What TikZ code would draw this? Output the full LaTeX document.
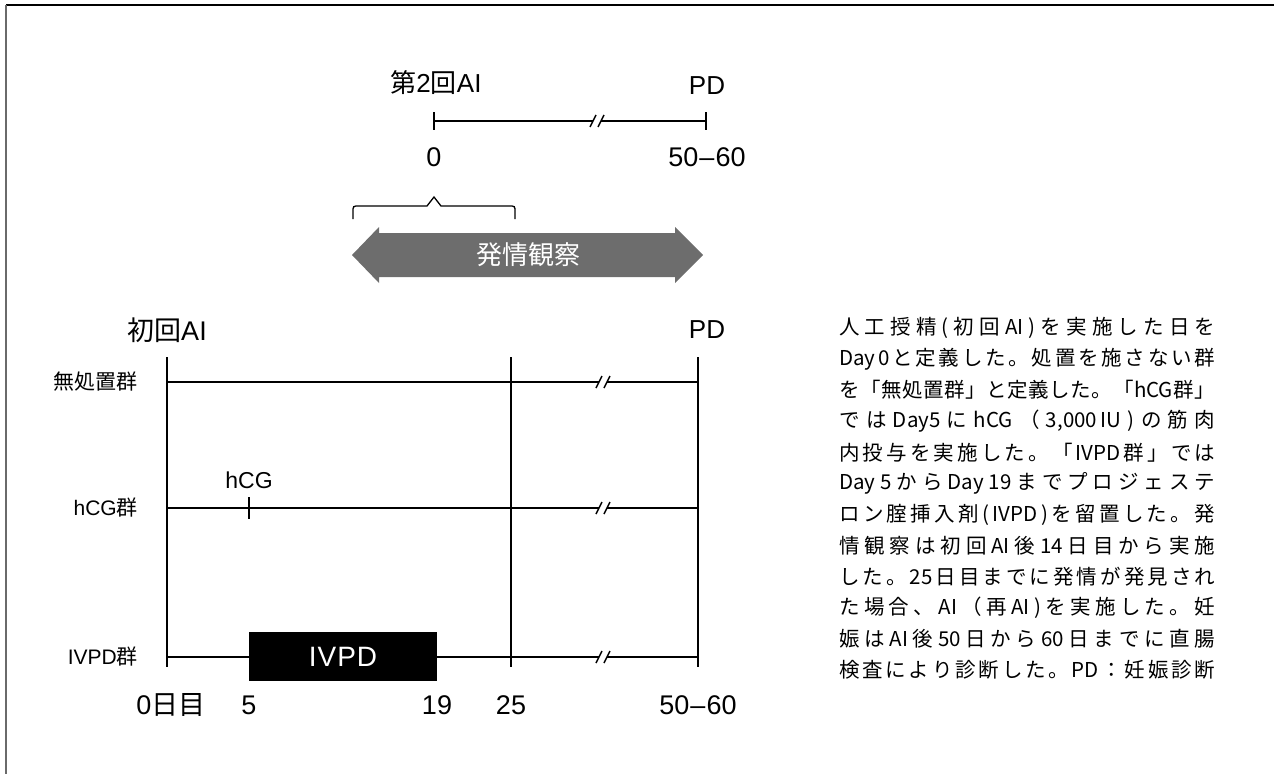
\documentclass[tikz,border=0pt]{standalone}
\usepackage{fontspec}
\setmainfont{Liberation Sans}
\newfontfamily\cjk{Noto Sans CJK JP}
\usetikzlibrary{calc}
\definecolor{arrowgray}{HTML}{6D6D6D}
\definecolor{framegray}{HTML}{6A6A6A}
\makeatletter
\newcommand\jline[1]{\hbox to 376pt{\@tfor\jtok:=#1\do{\jtok\hfil}\unskip}}
\makeatother
\newcommand\xjline[1]{\expandafter\jline\expandafter{#1}}
\newcommand\rng{50{\kern1pt}–{\kern1pt}60}
\tikzset{
  lbl/.style={font=\fontsize{26}{30}\selectfont, inner sep=0pt},
  num/.style={font=\fontsize{27}{31}\selectfont, inner sep=0pt},
  grp/.style={font=\fontsize{21}{25}\selectfont, anchor=east, inner sep=0pt},
  tl/.style={line width=1.4pt},
  vl/.style={line width=1.6pt},
  para/.style={font=\cjk\fontsize{20.5}{22}\selectfont, anchor=west, inner sep=0pt},
  brk/.pic={\draw[line width=1.4pt] (-7,6) -- (-1,-6) (1,6) -- (7,-6);}
}
\begin{document}
\begin{tikzpicture}[x=1pt,y=-1pt]
\useasboundingbox (0,0) rectangle (1274,774);
% frame
\draw[line width=2pt] (6,5) -- (1274,5);
\draw[framegray, line width=2.5pt] (6,5) -- (6,774);

% top timeline
\node[lbl] (ai2) at (436,83) {{\cjk 第}2{\cjk 回}AI};
\node[lbl] (pd2) at (707,86) {PD};
\coordinate (t0) at (434,121);
\coordinate (tb) at (597,121);
\coordinate (t1) at (706,121);
\draw[tl] (t0) -- ([xshift=-4pt]tb);
\draw[tl] ([xshift=4pt]tb) -- (t1);
\pic at (tb) {brk};
\draw[tl] ([yshift=9pt]t0) -- ([yshift=-9pt]t0);
\draw[tl] ([yshift=9pt]t1) -- ([yshift=-9pt]t1);
\node[num] (n0) at (434,157) {0};
\node[num] (n5060t) at (707,157) {\rng};

% brace
\draw[line width=1.3pt] (353,219) -- (353,212) .. controls (353,206) .. (359,206) -- (427,206) -- (434,197) -- (441,206) -- (509,206) .. controls (515,206) .. (515,212) -- (515,219);

% double arrow
\fill[arrowgray] (352,255) -- (379,227) -- (379,233) -- (675,233) -- (675,227) -- (703,255) -- (675,283) -- (675,277) -- (379,277) -- (379,283) -- cycle;
\node[font=\cjk\fontsize{26}{30}\selectfont, text=white, inner sep=0pt] (obs) at (528,255) {発情観察};

% main labels
\node[font=\fontsize{27}{31}\selectfont, inner sep=0pt] (ai1) at (167,330) {{\cjk 初回}AI};
\node[lbl] (pd1) at (707,330) {PD};

% verticals
\coordinate (v0t) at (167,357); \coordinate (v0b) at (167,667);
\coordinate (v1t) at (511,357); \coordinate (v1b) at (511,667);
\coordinate (v2t) at (698,357); \coordinate (v2b) at (698,667);
\draw[vl] (v0t) -- (v0b);
\draw[vl] (v1t) -- (v1b);
\draw[vl] (v2t) -- (v2b);

% rows
\foreach \r/\y in {1/382,2/508,3/657}{
  \coordinate (r\r L) at (167,\y);
  \coordinate (r\r B) at (603,\y);
  \coordinate (r\r R) at (698,\y);
  \draw[tl] (r\r L) -- ([xshift=-4pt]r\r B);
  \draw[tl] ([xshift=4pt]r\r B) -- (r\r R);
  \pic at (r\r B) {brk};
}

\node[grp] (g1) at (138,382) {\cjk 無処置群};
\node[grp] (g2) at (138,508) {hCG{\cjk 群}};
\node[grp] (g3) at (138,657) {IVPD{\cjk 群}};

% hCG mark
\coordinate (h0) at (249,497); \coordinate (h1) at (249,519);
\draw[line width=2pt] (h0) -- (h1);
\node[font=\fontsize{23}{27}\selectfont, inner sep=0pt] (hcg) at (249,480) {hCG};

% IVPD box
\node[fill=black, minimum width=188pt, minimum height=49pt, text=white, font=\fontsize{28}{32}\selectfont, inner sep=0pt] (ivpd) at (343,656.5) {I\kern1ptV\kern1ptP\kern1ptD};

% bottom labels
\node[num] (b0) at (171,705) {0{\cjk 日目}};
\node[num] (b5) at (249,705) {5};
\node[num] (b19) at (437,705) {19};
\node[num] (b25) at (511,705) {25};
\node[num] (b5060) at (698,705) {\rng};

% paragraph
\foreach \i/\t in {
 0/{人工授精(初回{AI})を実施した日を},
 1/{{Day}0と定義した。処置を施さない群},
 2/{を「無処置群」と定義した。「{hCG}群」},
 3/{では{Day5}に{hCG}（{3,000\,IU})の筋肉},
 4/{内投与を実施した。「{IVPD}群」では},
 5/{{Day}5から{Day}{19}までプロジェステ},
 6/{ロン腟挿入剤({IVPD})を留置した。発},
 7/{情観察は初回{AI}後{14}日目から実施},
 8/{した。{25}日目までに発情が発見され},
 9/{た場合、{AI}（再{AI})を実施した。妊},
 10/{娠は{AI}後{50}日から{60}日までに直腸},
 11/{検査により診断した。{PD}：妊娠診断}}{
  \node[para] (p\i) at (839,{328+31.1*\i}) {\xjline{\t}};
}
\end{tikzpicture}
\end{document}
